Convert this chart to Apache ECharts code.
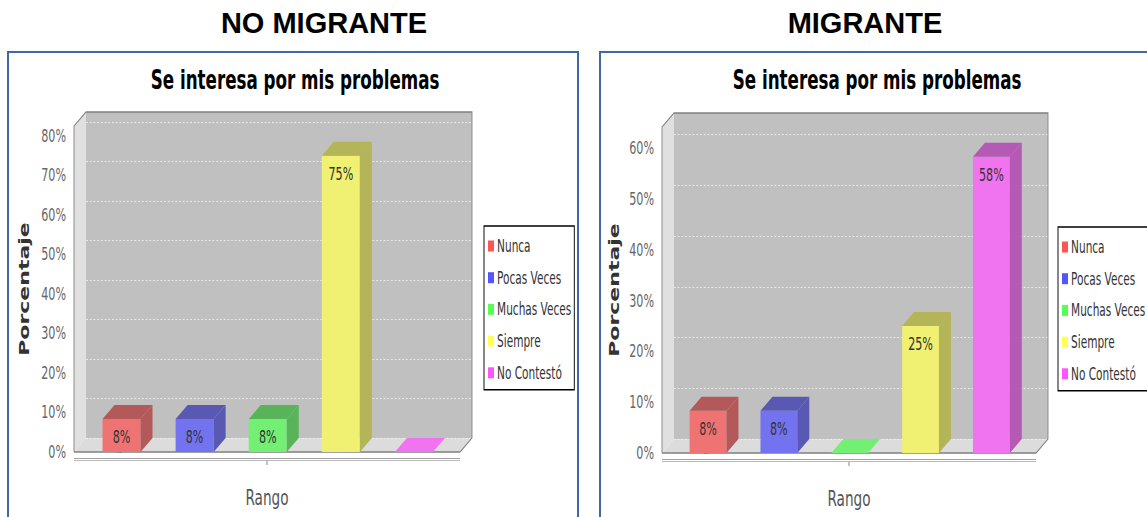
<!DOCTYPE html>
<html>
<head>
<meta charset="utf-8">
<title>Se interesa por mis problemas</title>
<script src="https://cdn.jsdelivr.net/npm/echarts@6/dist/echarts.min.js"></script>
<style>
	html, body { margin: 0; padding: 0; background: #fff; overflow: hidden; width: 1147px; height: 517px; }
	.caja { position: absolute; top: 51px; height: 500px; border: 2px solid #3d6aa5; }
	.encabezado { position: absolute; top: 9px; width: 400px; text-align: center; font: bold 29px "Liberation Sans", Arial, sans-serif; line-height: 29px; color: #000; }
	#chart { position: absolute; left: 0; top: 0; height: 517px; transform-origin: 0 0; }
</style>
</head>
<body>
<div class="caja" style="left:7px; width:568px;"></div>
<div class="caja" style="left:599px; width:600px;"></div>
<div class="encabezado" style="left:124px;">NO MIGRANTE</div>
<div class="encabezado" style="left:665px;">MIGRANTE</div>
<div id="chart"></div>

<script>
	// datos (porcentajes)
	var categorias = ['Nunca', 'Pocas Veces', 'Muchas Veces', 'Siempre', 'No Contestó'];
	var noMigrante = [8.33, 8.33, 8.33, 75, 0];
	var migrante = [8.33, 8.33, 0, 25, 58.33];
	var ticksNoMigrante = [0, 10, 20, 30, 40, 50, 60, 70, 80];
	var ticksMigrante = [0, 10, 20, 30, 40, 50, 60];

	var colores = ['#ff5555', '#5555ff', '#55ff55', '#ffff55', '#ff55ff'];
	var frente = ['#f07373', '#7373f0', '#73f073', '#f0f073', '#f073f0'];
	var oscuro = ['#b45959', '#5959b4', '#59b459', '#b4b459', '#b459b4'];

	// la imagen original viene comprimida en horizontal
	var S = 0.62;
	var DX = 12 / S, DY = 14; // profundidad 3D

	var paneles = [
		{ valores: noMigrante, ticks: ticksNoMigrante, x: 74, y: 126, w: 386, h: 326, legX: 484, legY: 226, tituloX: 292, nombreX: 31 },
		{ valores: migrante, ticks: ticksMigrante, x: 662, y: 127, w: 374, h: 326, legX: 1058, legY: 227, tituloX: 874, nombreX: 621 }
	];

	var dom = document.getElementById('chart');
	dom.style.width = (1147 / S) + 'px';
	dom.style.transform = 'scaleX(' + S + ')';

	function paredes(ticks) {
		return function (params, api) {
			var c = params.coordSys, x = c.x, y = c.y, w = c.width, h = c.height, b = y + h;
			var hijos = [
				{ type: 'polygon', shape: { points: [[x, b], [x, y], [x + DX, y - DY], [x + DX, b - DY]] }, style: { fill: '#e0e0e0' } },
				{ type: 'rect', shape: { x: x + DX, y: y - DY, width: w, height: h }, style: { fill: '#c0c0c0' } },
				{ type: 'polygon', shape: { points: [[x, b], [x + DX, b - DY], [x + w + DX, b - DY], [x + w, b]] }, style: { fill: '#dcdcdc' } }
			];
			ticks.forEach(function (t) {
				var yy = Math.round(api.coord([0, t])[1] - DY) + 0.5;
				hijos.push({ type: 'line', shape: { x1: x + DX, y1: yy, x2: x + w + DX, y2: yy }, style: { stroke: '#f4f4f4', lineWidth: 1, lineDash: [3, 3] } });
			});
			// contorno del área 3D
			hijos.push({ type: 'polyline', shape: { points: [[x, b], [x, y], [x + DX, y - DY], [x + w + DX, y - DY], [x + w + DX, b - DY], [x + w, b], [x, b]] }, style: { stroke: '#808080', lineWidth: 1.4, fill: null } });
			// eje de categorías (línea doble)
			hijos.push({ type: 'line', shape: { x1: x, y1: b + 6.5, x2: x + w, y2: b + 6.5 }, style: { stroke: '#8a8a8a', lineWidth: 1 } });
			hijos.push({ type: 'line', shape: { x1: x, y1: b + 8.5, x2: x + w, y2: b + 8.5 }, style: { stroke: '#a8a8a8', lineWidth: 1 } });
			hijos.push({ type: 'line', shape: { x1: x + w / 2, y1: b + 9, x2: x + w / 2, y2: b + 13 }, style: { stroke: '#808080', lineWidth: 1.5 } });
			return { type: 'group', children: hijos };
		};
	}

	function barra3d(params, api) {
		var i = api.value(0), v = api.value(1);
		var arriba = api.coord([i, v]), base = api.coord([i, 0]);
		var bw = api.size([1, 0])[0] * 0.52;
		var x0 = arriba[0] - bw / 2, x1 = arriba[0] + bw / 2, yt = arriba[1], yb = base[1];
		if (v <= 0) {
			return { type: 'polygon', shape: { points: [[x0, yb], [x0 + DX, yb - DY], [x1 + DX, yb - DY], [x1, yb]] }, style: { fill: frente[i] } };
		}
		return {
			type: 'group',
			children: [
				{ type: 'rect', shape: { x: x0, y: yt, width: bw, height: yb - yt }, style: { fill: frente[i] } },
				{ type: 'polygon', shape: { points: [[x0, yt], [x0 + DX, yt - DY], [x1 + DX, yt - DY], [x1, yt]] }, style: { fill: oscuro[i] } },
				{ type: 'polygon', shape: { points: [[x1, yt], [x1 + DX, yt - DY], [x1 + DX, yb - DY], [x1, yb]] }, style: { fill: oscuro[i] } },
				{ type: 'text', x: arriba[0], y: yt + 18, style: { text: Math.round(v) + '%', fontSize: 18, fontFamily: 'DejaVu Sans', fill: '#333', align: 'center', verticalAlign: 'middle' } }
			]
		};
	}

	var grids = [], xAxes = [], yAxes = [], titulos = [], leyendas = [], series = [];
	paneles.forEach(function (p, k) {
		grids.push({ left: p.x / S, top: p.y, width: p.w / S, height: p.h, outerBoundsMode: 'none' });
		titulos.push({
			text: 'Se interesa por mis problemas',
			left: p.tituloX / S, top: 61, textAlign: 'center',
			textStyle: { fontSize: 27, fontWeight: 'bold', fontFamily: 'DejaVu Sans', color: '#000' }
		});
		xAxes.push({
			gridIndex: k, type: 'value', min: -0.65, max: 4.63,
			name: 'Rango', nameLocation: 'middle', nameGap: 34,
			nameTextStyle: { fontSize: 22, fontFamily: 'DejaVu Sans', color: '#555' },
			axisLine: { show: false }, axisTick: { show: false }, axisLabel: { show: false }, splitLine: { show: false }
		});
		yAxes.push({
			gridIndex: k, type: 'value', min: 0,
			max: function (e) { return e.max * 1.1; },
			name: 'Porcentaje', nameLocation: 'middle', nameRotate: 90, nameGap: (p.x - p.nombreX) / S,
			nameTextStyle: { fontSize: 22, fontWeight: 'bold', fontFamily: 'DejaVu Sans', color: '#333' },
			axisLine: { show: true, lineStyle: { color: '#808080', width: 1.6 } },
			axisTick: { show: true, length: 4 / S, customValues: p.ticks, lineStyle: { color: '#808080' } },
			axisLabel: { customValues: p.ticks, formatter: '{value}%', margin: 8 / S, fontSize: 18, fontFamily: 'DejaVu Sans', color: '#666' },
			splitLine: { show: false }
		});
		leyendas.push({
			data: categorias, orient: 'vertical', left: p.legX / S, top: p.legY,
			icon: 'rect', itemWidth: 6 / S, itemHeight: 11, itemGap: 14.7,
			padding: [11.5, 3 / S, 8.5, 4 / S],
			borderColor: '#000', borderWidth: 1.5, backgroundColor: '#fff',
			selectedMode: false,
			textStyle: { fontSize: 17, lineHeight: 17, fontFamily: 'DejaVu Sans', color: '#333' }
		});
		series.push({
			type: 'custom', xAxisIndex: k, yAxisIndex: k, z: 1, silent: true,
			data: [[0, 0]], encode: { x: 0, y: 1 },
			renderItem: paredes(p.ticks)
		});
		categorias.forEach(function (nombre, i) {
			series.push({
				name: nombre, type: 'custom', xAxisIndex: k, yAxisIndex: k, z: 2,
				itemStyle: { color: colores[i] },
				data: [[i, p.valores[i]]], encode: { x: 0, y: 1 },
				renderItem: barra3d
			});
		});
	});

	var grafico = echarts.init(dom, null, { renderer: 'svg' });
	grafico.setOption({
		backgroundColor: 'transparent',
		animation: false,
		title: titulos,
		legend: leyendas,
		grid: grids,
		xAxis: xAxes,
		yAxis: yAxes,
		series: series
	});
</script>
</body>
</html>
